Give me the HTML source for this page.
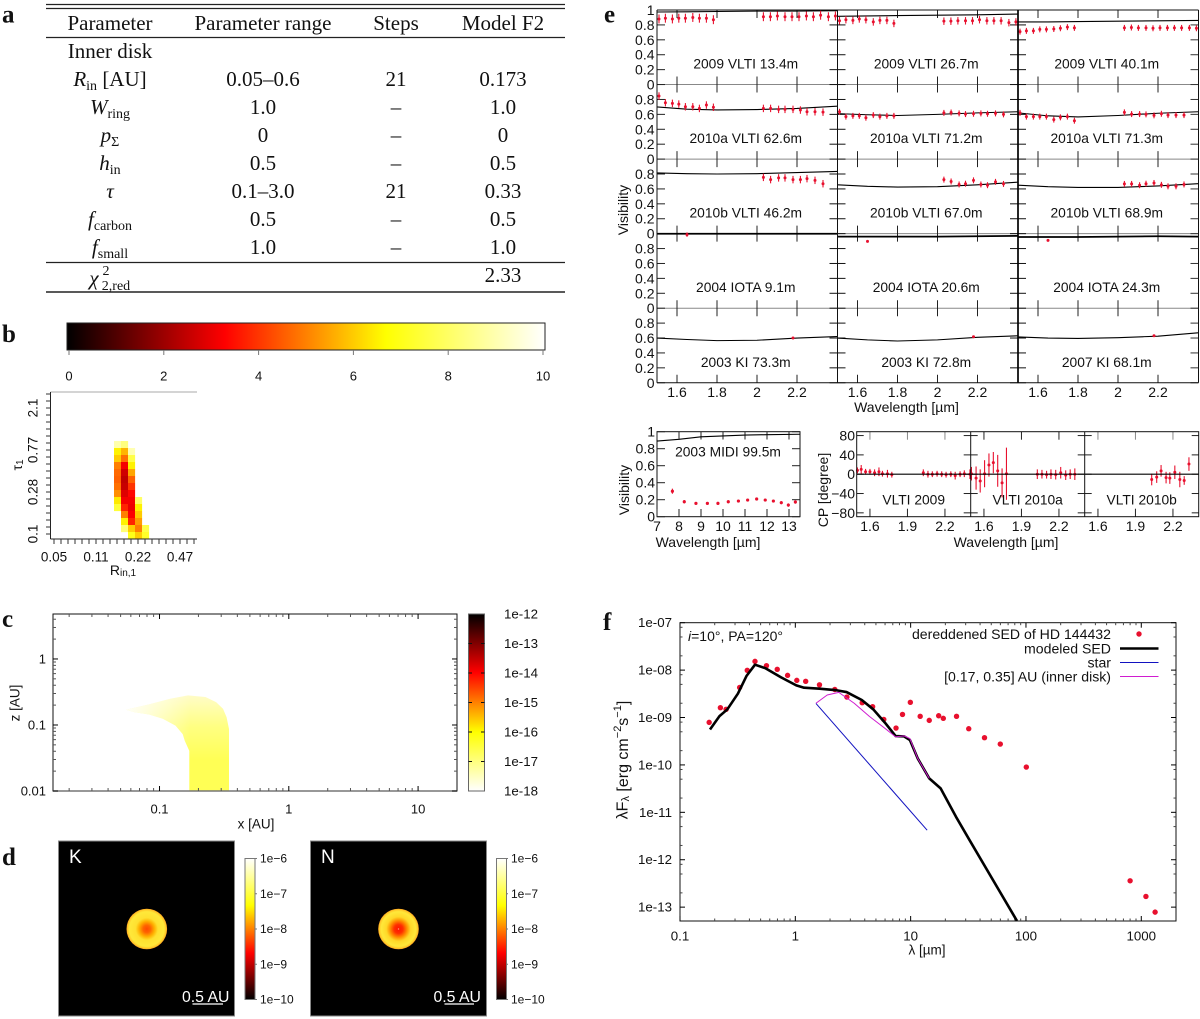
<!DOCTYPE html>
<html lang="en">
<head>
<meta charset="utf-8">
<title>HD 144432 inner disk model figure</title>
<style>
html,body{margin:0;padding:0;background:#fff;width:1200px;height:1019px;overflow:hidden}
svg{display:block;filter:blur(0.3px)}
text{font-family:"Liberation Sans",sans-serif;fill:#111}
.serif{font-family:"Liberation Serif",serif;font-size:21px;text-anchor:middle}
.plabel{font-family:"Liberation Serif",serif;font-size:25px;font-weight:bold}
.ttl{dominant-baseline:central;text-anchor:middle;font-size:14px}
</style>
</head>
<body>
<svg id="figure" xmlns="http://www.w3.org/2000/svg" width="1200" height="1019" viewBox="0 0 1200 1019">
<defs>
<linearGradient id="hotH" x1="0" x2="1" y1="0" y2="0"><stop offset="0" stop-color="#000"/><stop offset=".33" stop-color="#f00"/><stop offset=".667" stop-color="#ff0"/><stop offset="1" stop-color="#fff"/></linearGradient>
<linearGradient id="hotV" x1="0" x2="0" y1="0" y2="1"><stop offset="0" stop-color="#000"/><stop offset=".33" stop-color="#f00"/><stop offset=".667" stop-color="#ff0"/><stop offset="1" stop-color="#fff"/></linearGradient>
<linearGradient id="hotVr" x1="0" x2="0" y1="1" y2="0"><stop offset="0" stop-color="#000"/><stop offset=".33" stop-color="#f00"/><stop offset=".667" stop-color="#ff0"/><stop offset="1" stop-color="#fff"/></linearGradient>
<linearGradient id="diskY" gradientUnits="userSpaceOnUse" x1="0" x2="0" y1="695" y2="760"><stop offset="0" stop-color="#fffcc8"/><stop offset=".5" stop-color="#ffff80"/><stop offset="1" stop-color="#ffff55"/></linearGradient>
<linearGradient id="diskFade" gradientUnits="userSpaceOnUse" x1="120" x2="190" y1="0" y2="0"><stop offset="0" stop-color="#fff" stop-opacity="1"/><stop offset="1" stop-color="#fff" stop-opacity="0"/></linearGradient>
<radialGradient id="imgK"><stop offset="0" stop-color="#ff4a00"/><stop offset=".18" stop-color="#ff6400"/><stop offset=".38" stop-color="#ffb000"/><stop offset=".55" stop-color="#ffe030"/><stop offset=".85" stop-color="#ffe83a"/><stop offset=".95" stop-color="#ffc828"/><stop offset="1" stop-color="#ff9a20"/></radialGradient>
<radialGradient id="imgN"><stop offset="0" stop-color="#ffe0a0"/><stop offset=".05" stop-color="#ff1800"/><stop offset=".22" stop-color="#ff3000"/><stop offset=".42" stop-color="#ff9000"/><stop offset=".6" stop-color="#ffd828"/><stop offset=".85" stop-color="#ffe83a"/><stop offset=".95" stop-color="#ffc828"/><stop offset="1" stop-color="#ff9a20"/></radialGradient>
</defs>
<rect width="1200" height="1019" fill="#fff"/>

<!-- Panel letters -->
<g>
<text class="plabel" x="2" y="22.5">a</text>
<text class="plabel" x="2" y="342">b</text>
<text class="plabel" x="2" y="627">c</text>
<text class="plabel" x="2" y="865">d</text>
<text class="plabel" x="604" y="22.5">e</text>
<text class="plabel" x="603" y="630">f</text>
</g>

<!-- Panel a: table -->
<g>
<line x1="46" x2="565" y1="4.5" y2="4.5" stroke="#222" stroke-width="1.2"/>
<line x1="46" x2="565" y1="8.5" y2="8.5" stroke="#222" stroke-width="1.2"/>
<line x1="46" x2="565" y1="37.5" y2="37.5" stroke="#222" stroke-width="1.2"/>
<line x1="46" x2="565" y1="262.5" y2="262.5" stroke="#222" stroke-width="1.2"/>
<line x1="46" x2="565" y1="292" y2="292" stroke="#222" stroke-width="1.4"/>
<text class="serif" x="110" y="30">Parameter</text>
<text class="serif" x="263" y="30">Parameter range</text>
<text class="serif" x="396" y="30">Steps</text>
<text class="serif" x="503" y="30">Model F2</text>
<text class="serif" x="110" y="58">Inner disk</text>

<text class="serif" x="110" y="86"><tspan font-style="italic">R</tspan><tspan dy="4" font-size="14">in</tspan><tspan dy="-4"> [AU]</tspan></text>
<text class="serif" x="263" y="86">0.05–0.6</text>
<text class="serif" x="396" y="86">21</text>
<text class="serif" x="503" y="86">0.173</text>

<text class="serif" x="110" y="114"><tspan font-style="italic">W</tspan><tspan dy="4" font-size="14">ring</tspan></text>
<text class="serif" x="263" y="114">1.0</text>
<text class="serif" x="396" y="114">–</text>
<text class="serif" x="503" y="114">1.0</text>

<text class="serif" x="110" y="142"><tspan font-style="italic">p</tspan><tspan dy="4" font-size="14">Σ</tspan></text>
<text class="serif" x="263" y="142">0</text>
<text class="serif" x="396" y="142">–</text>
<text class="serif" x="503" y="142">0</text>

<text class="serif" x="110" y="170"><tspan font-style="italic">h</tspan><tspan dy="4" font-size="14">in</tspan></text>
<text class="serif" x="263" y="170">0.5</text>
<text class="serif" x="396" y="170">–</text>
<text class="serif" x="503" y="170">0.5</text>

<text class="serif" x="110" y="198" font-style="italic">τ</text>
<text class="serif" x="263" y="198">0.1–3.0</text>
<text class="serif" x="396" y="198">21</text>
<text class="serif" x="503" y="198">0.33</text>

<text class="serif" x="110" y="226"><tspan font-style="italic">f</tspan><tspan dy="4" font-size="14">carbon</tspan></text>
<text class="serif" x="263" y="226">0.5</text>
<text class="serif" x="396" y="226">–</text>
<text class="serif" x="503" y="226">0.5</text>

<text class="serif" x="110" y="254"><tspan font-style="italic">f</tspan><tspan dy="4" font-size="14">small</tspan></text>
<text class="serif" x="263" y="254">1.0</text>
<text class="serif" x="396" y="254">–</text>
<text class="serif" x="503" y="254">1.0</text>

<text class="serif" x="94" y="285" font-style="italic">χ</text>
<text class="serif" x="106" y="275" style="font-size:14px">2</text>
<text class="serif" x="116" y="290" style="font-size:14px">2,red</text>
<text class="serif" x="503" y="282">2.33</text>
</g>

<!-- Panel b -->
<g id="panelB">
<rect x="67" y="323" width="478" height="27" fill="url(#hotH)" stroke="#222" stroke-width="1"/>
<text class="ttl" x="123" y="570" style="font-size:14px">R<tspan dy="3" font-size="10">in,1</tspan></text>
<text class="ttl" transform="translate(17,465) rotate(-90)" style="font-size:14px">τ<tspan dy="3" font-size="10">1</tspan></text>
</g>

<!-- Panel c -->
<g id="panelC">
<rect x="468.5" y="614" width="16" height="177" fill="url(#hotV)" stroke="#666" stroke-width="1"/>
<text class="ttl" x="256" y="824" style="font-size:13.5px">x [AU]</text>
<text class="ttl" transform="translate(15,703) rotate(-90)" style="font-size:13.5px">z [AU]</text>
</g>

<!-- Panel d -->
<g id="panelD">
<rect x="58.5" y="841" width="176" height="175" fill="#000" stroke="#888"/>
<circle cx="146.8" cy="929" r="20.3" fill="url(#imgK)"/>
<text x="69" y="863" font-size="19" style="fill:#fff">K</text>
<text x="182" y="1002" font-size="15.8" style="fill:#fff">0.5 AU</text>
<line x1="192.5" x2="223" y1="1004" y2="1004" stroke="#fff" stroke-width="1.2"/>
<rect x="245" y="858.5" width="10" height="141" fill="url(#hotVr)" stroke="#777"/>

<rect x="310.5" y="841" width="176" height="175" fill="#000" stroke="#888"/>
<circle cx="398.5" cy="929" r="20.3" fill="url(#imgN)"/>
<text x="321" y="863" font-size="19" style="fill:#fff">N</text>
<text x="433.5" y="1002" font-size="15.8" style="fill:#fff">0.5 AU</text>
<line x1="444.5" x2="474" y1="1004" y2="1004" stroke="#fff" stroke-width="1.2"/>
<rect x="496.5" y="858.5" width="10" height="141" fill="url(#hotVr)" stroke="#777"/>
</g>

<!-- Panel e -->
<g id="panelE">
<text class="ttl" transform="translate(623,210) rotate(-90)">Visibility</text>
<text class="ttl" x="906.5" y="407">Wavelength [µm]</text>
</g>
<g id="panelMidi">
<text class="ttl" transform="translate(624,490) rotate(-90)">Visibility</text>
<text class="ttl" x="708" y="542">Wavelength [µm]</text>
</g>
<g id="panelCP">
<text class="ttl" transform="translate(823,490) rotate(-90)">CP [degree]</text>
<text class="ttl" x="1006" y="542">Wavelength [µm]</text>
</g>

<!-- Panel f -->
<g id="panelF">
<text x="688" y="641" font-size="14"><tspan font-style="italic">i</tspan>=10°, PA=120°</text>
<text class="ttl" x="927" y="950" style="font-size:13.5px">λ [µm]</text>
<text class="ttl" transform="translate(623,760) rotate(-90)" style="font-size:16px">λF<tspan dy="3" font-size="11">λ</tspan><tspan dy="-3"> [erg cm</tspan><tspan dy="-5" font-size="11">−2</tspan><tspan dy="5">s</tspan><tspan dy="-5" font-size="11">−1</tspan><tspan dy="5">]</tspan></text>
<g font-size="14.1" text-anchor="end">
<text x="1111" y="639">dereddened SED of HD 144432</text>
<text x="1111" y="653.5">modeled SED</text>
<text x="1111" y="667.5">star</text>
<text x="1111" y="681.5">[0.17, 0.35] AU (inner disk)</text>
<circle cx="1139" cy="634" r="2.7" fill="#e8102e"/>
<line x1="1120" x2="1158.5" y1="648.5" y2="648.5" stroke="#000" stroke-width="2.6"/>
<line x1="1120" x2="1158.5" y1="662.5" y2="662.5" stroke="#1212c0" stroke-width="1"/>
<line x1="1120" x2="1158.5" y1="676.5" y2="676.5" stroke="#d01cd0" stroke-width="1"/>
</g>
</g>
</svg>

<script>
// ---- Panel b data
const chi2BarTicks = [0, 2, 4, 6, 8, 10];
const rinTickLabels = ['0.05', '0.11', '0.22', '0.47'];
const tauTickLabels = ['0.1', '0.28', '0.77', '2.1'];
const chi2RowIndex = [7, 8, 9, 10, 11, 12, 13, 14, 15, 16, 17, 18, 19, 20];
const chi2ColIndex = [9, 10, 11, 12, 13];
const chi2Values = [
  [8.9, 8.3, 10, 10, 10],
  [6.5, 5.7, 9.0, 10, 10],
  [6.0, 4.8, 7.6, 10, 10],
  [5.0, 3.2, 6.5, 10, 10],
  [4.7, 2.7, 5.5, 10, 10],
  [4.6, 2.5, 4.6, 10, 10],
  [4.8, 2.6, 4.0, 10, 10],
  [5.2, 2.9, 3.4, 10, 10],
  [6.4, 3.2, 3.2, 8.0, 10],
  [7.4, 3.8, 3.1, 6.5, 10],
  [10, 5.0, 3.3, 6.0, 10],
  [10, 6.5, 3.8, 5.4, 10],
  [10, 8.2, 6.0, 5.0, 7.6],
  [10, 10, 7.0, 6.0, 7.2]
];

// ---- Panel c data
const diskX = [0.055, 0.083, 0.121, 0.166, 0.227, 0.274, 0.31, 0.33, 0.345, 0.345, 0.17, 0.17, 0.157, 0.151, 0.133, 0.106, 0.083, 0.0644];
const diskZ = [0.17, 0.205, 0.25, 0.281, 0.265, 0.222, 0.176, 0.131, 0.087, 0.01, 0.01, 0.0405, 0.0575, 0.0728, 0.098, 0.124, 0.144, 0.156];
const densityXTicks = [0.1, 1, 10];
const densityZTicks = [0.01, 0.1, 1];
const densityBarLabels = ['1e-12', '1e-13', '1e-14', '1e-15', '1e-16', '1e-17', '1e-18'];

// ---- Panel d data
const imageBarLabels = ['1e−6', '1e−7', '1e−8', '1e−9', '1e−10'];

// ---- Panel e data
const hLambda = [1.51, 1.542, 1.577, 1.609, 1.642, 1.679, 1.712, 1.747, 1.782];
const kLambda11 = [2.032, 2.067, 2.102, 2.14, 2.175, 2.21, 2.247, 2.282, 2.318, 2.357, 2.392];
const kLambda9 = [2.032, 2.068, 2.108, 2.14, 2.18, 2.217, 2.25, 2.29, 2.33];
const modelLambda = [1.5, 1.65, 1.8, 2.0, 2.2, 2.4];
const wavelengthTicks = [1.6, 1.8, 2, 2.2];
const visTicks = [0, 0.2, 0.4, 0.6, 0.8, 1];

const vis2009a = [0.88, 0.89, 0.88, 0.89, 0.89, 0.9, 0.89, 0.89, 0.87, 0.91, 0.91, 0.92, 0.91, 0.91, 0.91, 0.92, 0.91, 0.93, 0.91, 0.92];
const vis2009b = [0.856, 0.87, 0.86, 0.88, 0.87, 0.84, 0.86, 0.86, 0.82, 0.85, 0.85, 0.855, 0.855, 0.855, 0.87, 0.855, 0.855, 0.855, 0.83, 0.84];
const vis2009c = [0.71, 0.72, 0.72, 0.74, 0.74, 0.745, 0.755, 0.77, 0.76, 0.76, 0.765, 0.76, 0.76, 0.755, 0.76, 0.76, 0.76, 0.76, 0.76, 0.755];
const vis2010a1 = [0.846, 0.756, 0.748, 0.738, 0.702, 0.702, 0.68, 0.725, 0.695, 0.68, 0.68, 0.667, 0.667, 0.667, 0.658, 0.635, 0.635, 0.63];
const vis2010a2 = [0.635, 0.57, 0.58, 0.58, 0.555, 0.59, 0.57, 0.58, 0.58, 0.62, 0.625, 0.613, 0.604, 0.608, 0.613, 0.608, 0.613, 0.6];
const vis2010a3 = [0.62, 0.57, 0.57, 0.57, 0.57, 0.53, 0.56, 0.57, 0.515, 0.627, 0.604, 0.604, 0.6, 0.587, 0.608, 0.59, 0.59, 0.59];
const vis2010b1 = [0.755, 0.725, 0.748, 0.748, 0.725, 0.725, 0.738, 0.715, 0.67];
const vis2010b2 = [0.725, 0.7, 0.66, 0.67, 0.715, 0.66, 0.65, 0.695, 0.667];
const vis2010b3 = [0.667, 0.667, 0.65, 0.67, 0.68, 0.655, 0.635, 0.635, 0.66];
const visIota1 = [0.987];
const visIota2 = [0.897];
const visIota3 = [0.91];
const visKi1 = [0.6];
const visKi2 = [0.617];
const visKi3 = [0.63];

const model2009a = [0.973, 0.975, 0.98, 0.985, 0.985, 0.99];
const model2009b = [0.915, 0.92, 0.925, 0.93, 0.935, 0.945];
const model2009c = [0.84, 0.84, 0.845, 0.85, 0.855, 0.86];
const model2010a1 = [0.7, 0.67, 0.66, 0.665, 0.68, 0.71];
const model2010a2 = [0.61, 0.595, 0.585, 0.6, 0.62, 0.635];
const model2010a3 = [0.62, 0.58, 0.565, 0.585, 0.615, 0.635];
const model2010b1 = [0.815, 0.805, 0.8, 0.805, 0.82, 0.835];
const model2010b2 = [0.655, 0.635, 0.625, 0.63, 0.655, 0.69];
const model2010b3 = [0.65, 0.63, 0.62, 0.62, 0.64, 0.67];
const modelIota1 = [0.999, 0.999, 0.999, 0.999, 0.999, 0.999];
const modelIota2 = [0.96, 0.96, 0.96, 0.96, 0.965, 0.97];
const modelIota3 = [0.955, 0.955, 0.955, 0.96, 0.965, 0.96];
const modelKi1 = [0.6, 0.58, 0.565, 0.57, 0.6, 0.62];
const modelKi2 = [0.6, 0.575, 0.56, 0.575, 0.61, 0.63];
const modelKi3 = [0.615, 0.6, 0.595, 0.605, 0.625, 0.67];

const visPanels = [
  { title: '2009 VLTI 13.4m', col: 0, row: 0, lam: [...hLambda, ...kLambda11], vis: vis2009a, err: 0.06, model: model2009a },
  { title: '2009 VLTI 26.7m', col: 1, row: 0, lam: [...hLambda, ...kLambda11], vis: vis2009b, err: 0.05, model: model2009b },
  { title: '2009 VLTI 40.1m', col: 2, row: 0, lam: [...hLambda, ...kLambda11], vis: vis2009c, err: 0.04, model: model2009c },
  { title: '2010a VLTI 62.6m', col: 0, row: 1, lam: [...hLambda, ...kLambda9], vis: vis2010a1, err: 0.05, model: model2010a1 },
  { title: '2010a VLTI 71.2m', col: 1, row: 1, lam: [...hLambda, ...kLambda9], vis: vis2010a2, err: 0.04, model: model2010a2 },
  { title: '2010a VLTI 71.3m', col: 2, row: 1, lam: [...hLambda, ...kLambda9], vis: vis2010a3, err: 0.04, model: model2010a3 },
  { title: '2010b VLTI 46.2m', col: 0, row: 2, lam: kLambda9, vis: vis2010b1, err: 0.05, model: model2010b1 },
  { title: '2010b VLTI 67.0m', col: 1, row: 2, lam: kLambda9, vis: vis2010b2, err: 0.04, model: model2010b2 },
  { title: '2010b VLTI 68.9m', col: 2, row: 2, lam: kLambda9, vis: vis2010b3, err: 0.04, model: model2010b3 },
  { title: '2004 IOTA 9.1m', col: 0, row: 3, lam: [1.65], vis: visIota1, err: 0.03, model: modelIota1 },
  { title: '2004 IOTA 20.6m', col: 1, row: 3, lam: [1.65], vis: visIota2, err: 0.015, model: modelIota2 },
  { title: '2004 IOTA 24.3m', col: 2, row: 3, lam: [1.65], vis: visIota3, err: 0.015, model: modelIota3 },
  { title: '2003 KI 73.3m', col: 0, row: 4, lam: [2.18], vis: visKi1, err: 0.015, model: modelKi1 },
  { title: '2003 KI 72.8m', col: 1, row: 4, lam: [2.18], vis: visKi2, err: 0.015, model: modelKi2 },
  { title: '2007 KI 68.1m', col: 2, row: 4, lam: [2.18], vis: visKi3, err: 0.01, model: modelKi3 }
];

// ---- MIDI data
const midiLambda = [7.7, 8.24, 8.77, 9.29, 9.77, 10.24, 10.7, 11.12, 11.53, 11.92, 12.29, 12.65, 12.97, 13.29];
const midiVis = [0.3, 0.176, 0.157, 0.157, 0.157, 0.176, 0.184, 0.196, 0.208, 0.196, 0.184, 0.165, 0.137, 0.173];
const midiErr = [0.03, 0.02, 0.015, 0.015, 0.018, 0.018, 0.015, 0.012, 0.012, 0.015, 0.015, 0.018, 0.02, 0.02];
const midiModelLambda = [7, 8, 9, 10, 11, 12, 13.5];
const midiModelVis = [0.89, 0.91, 0.94, 0.95, 0.96, 0.965, 0.97];
const midiXTicks = [7, 8, 9, 10, 11, 12, 13];

// ---- Closure phase data
const cpLambda2009 = [1.5, 1.53, 1.565, 1.6, 1.637, 1.672, 1.7, 1.74, 1.775, 2.027, 2.064, 2.099, 2.137, 2.174, 2.209, 2.247, 2.282, 2.321, 2.355, 2.4];
const cpValue2009 = [8, 10, 5, 5, 3, 5, 1, 1, -1, 3, 0, 0, 1, 0, -1, 0, -3, 0, 1, 0];
const cpError2009 = [6, 9, 6, 6, 7, 9, 6, 8, 6, 7, 7, 6, 6, 6, 6, 6, 8, 6, 7, 10];
const cpLambda2010a = [1.5, 1.537, 1.57, 1.605, 1.64, 1.675, 1.71, 1.745, 1.78, 2.027, 2.064, 2.101, 2.136, 2.174, 2.214, 2.254, 2.29, 2.327];
const cpValue2010a = [1, -8, -14, 1, 19, 24, 7, -18, 1, 0, 0, -1, 0, -1, 3, -2, 0, 0];
const cpError2010a = [14, 24, 24, 28, 24, 22, 33, 30, 54, 10, 9, 8, 10, 10, 12, 10, 10, 12];
const cpLambda2010b = [2.03, 2.07, 2.105, 2.145, 2.175, 2.215, 2.255, 2.29, 2.328];
const cpValue2010b = [-11, -6, 7, -7, -8, 4, -11, -13, 21];
const cpError2010b = [12, 12, 12, 12, 12, 14, 16, 9, 14];
const cpXTicks = [1.6, 1.9, 2.2];
const cpYTicks = [80, 40, 0, -40, -80];
const cpTickText = ['80', '40', '0', '−40', '−80'];
const cpTitles = ['VLTI 2009', 'VLTI 2010a', 'VLTI 2010b'];

// ---- Panel f data
const sedLambda = [0.179, 0.224, 0.251, 0.329, 0.383, 0.447, 0.562, 0.697, 0.857, 1.03, 1.23, 1.62, 2.2, 2.8, 3.8, 4.68, 5.85, 7.47, 8.5, 9.94, 12.1, 14.5, 17.5, 19.2, 25, 31.9, 43.7, 59.9, 100.7, 800, 1097, 1318];
const sedFlux = [7.9e-10, 1.61e-9, 1.49e-9, 4.3e-9, 9.9e-9, 1.53e-8, 1.24e-8, 1.04e-8, 7.75e-9, 6.07e-9, 5.8e-9, 4.9e-9, 3.9e-9, 2.7e-9, 2.05e-9, 1.69e-9, 9.1e-10, 6e-10, 1.16e-9, 2.09e-9, 1.06e-9, 8.7e-10, 1.09e-9, 9.6e-10, 1.06e-9, 5.8e-10, 3.75e-10, 2.75e-10, 9e-11, 3.6e-13, 1.68e-13, 7.85e-14];
const modelSedLambda = [0.182, 0.22, 0.257, 0.318, 0.377, 0.447, 0.553, 0.753, 1.02, 1.19, 1.62, 2.2, 2.78, 3.77, 4.75, 5.99, 7.41, 8.77, 9.85, 11.5, 14.5, 18.2, 24.7, 32.4, 83.5];
const modelSedFlux = [5.6e-10, 1.07e-9, 1.48e-9, 3.2e-9, 7.5e-9, 1.3e-8, 1.09e-8, 7.03e-9, 4.77e-9, 4.25e-9, 4.05e-9, 3.8e-9, 3.44e-9, 2.34e-9, 1.48e-9, 7.76e-10, 4.07e-10, 4e-10, 3.35e-10, 1.38e-10, 5.2e-11, 3.2e-11, 8.1e-12, 2.6e-12, 5.15e-14];
const starLambda = [1.51, 13.9];
const starFlux = [1.98e-9, 4.2e-12];
const innerDiskLambda = [1.51, 1.89, 2.38, 3.24, 4.4, 5.99, 7.41, 8.77, 9.85, 11.5, 14.5];
const innerDiskFlux = [2e-9, 2.98e-9, 3.39e-9, 2e-9, 1.05e-9, 5.9e-10, 3.9e-10, 4.1e-10, 3.6e-10, 1.38e-10, 5.2e-11];
const sedXTicks = [0.1, 1, 10, 100, 1000];
const sedXLabels = ['0.1', '1', '10', '100', '1000'];
const sedYTicks = [1e-7, 1e-8, 1e-9, 1e-10, 1e-11, 1e-12, 1e-13];
const sedYLabels = ['1e-07', '1e-08', '1e-09', '1e-10', '1e-11', '1e-12', '1e-13'];

// ---- Helpers
const NS = 'http://www.w3.org/2000/svg';
function mk(tag, attrs, parent) {
  const e = document.createElementNS(NS, tag);
  for (const k in attrs) e.setAttribute(k, attrs[k]);
  parent.appendChild(e);
  return e;
}
function lin(d0, d1, r0, r1) { return v => r0 + (v - d0) / (d1 - d0) * (r1 - r0); }
function logScale(d0, d1, r0, r1) {
  const f = lin(Math.log10(d0), Math.log10(d1), r0, r1);
  return v => f(Math.log10(v));
}
function tick(p, x1, y1, x2, y2, color, w) {
  const t = mk('line', { x1, y1, x2, y2, stroke: color || '#000', 'stroke-width': w || 1 }, p);
  
  
  return t;
}
function rule(p, x1, y1, x2, y2, color, w) {
  const t = mk('line', { x1, y1, x2, y2, stroke: color || '#000', 'stroke-width': w || 1 }, p);
  
  
  return t;
}
function tickLabel(p, x, y, str, size, anchor, rot) {
  const attrs = { 'font-size': size, 'text-anchor': anchor || 'middle', 'dominant-baseline': 'central' };
  if (rot) { attrs.transform = 'translate(' + x + ',' + y + ') rotate(-90)'; } else { attrs.x = x; attrs.y = y; }
  const t = mk('text', attrs, p);
  t.textContent = str;
  
  
  return t;
}
function curve(p, xs, ys, sx, sy, color, w) {
  const pts = xs.map((v, i) => sx(v).toFixed(2) + ',' + sy(ys[i]).toFixed(2)).join(' ');
  return mk('polyline', { points: pts, fill: 'none', stroke: color, 'stroke-width': w, 'stroke-linejoin': 'round' }, p);
}
function hotColor(v) {
  const t = Math.max(0, Math.min(1, v / 10));
  const c = x => Math.round(255 * Math.max(0, Math.min(1, x)));
  return 'rgb(' + c(t / 0.333) + ',' + c((t - 0.333) / 0.334) + ',' + c((t - 0.667) / 0.333) + ')';
}
const RED = '#e8102e';
function marker(p, x, y0, y1, yc, r) {
  const bar = mk('line', { x1: x, x2: x, y1: y0, y2: y1, stroke: RED, 'stroke-width': 1.1 }, p);
  
  
  const dot = mk('circle', { cx: x, cy: yc, r: r, fill: RED }, p);
  
  
}

// ---- Draw panel b
(function () {
  const p = document.getElementById('panelB');
  const barX = lin(0, 10, 69, 543);
  chi2BarTicks.forEach(v => {
    tick(p, barX(v), 350, barX(v), 355, '#777');
    tickLabel(p, barX(v), 376, String(v), 13);
  });
  const cellX = i => 51 + i * 7;
  const cellY = j => 392 + j * 7;
  chi2RowIndex.forEach((row, j) => {
    chi2ColIndex.forEach((col, i) => {
      const v = chi2Values[j][i];
      if (v >= 10) return;
      const c = mk('rect', { x: cellX(col), y: cellY(row), width: 7.1, height: 7.1, fill: hotColor(v) }, p);
      
      
    });
  });
  rule(p, 50.5, 392, 197, 392, '#aaa', 1);
  rule(p, 50.5, 392, 50.5, 539, '#222', 1);
  rule(p, 50.5, 539, 197, 539, '#222', 1);
  for (let i = 0; i < 21; i++) {
    tick(p, cellX(i) + 3, 539, cellX(i) + 3, 544, '#333');
    tick(p, 50.5, cellY(i) + 2, 46, cellY(i) + 2, '#333');
  }
  rinTickLabels.forEach((s, i) => tickLabel(p, cellX(i * 6) + 3, 557, s, 13.5));
  tauTickLabels.forEach((s, i) => tickLabel(p, 33, cellY(20 - i * 6) + 2, s, 13.5, 'middle', true));
})();

// ---- Draw panel c
(function () {
  const p = document.getElementById('panelC');
  const sx = logScale(0.015, 20, 53, 457);
  const sz = logScale(0.01, 4.8, 791, 614);
  const pts = diskX.map((v, i) => sx(v).toFixed(1) + ',' + sz(diskZ[i]).toFixed(1)).join(' ');
  const d1 = mk('polygon', { points: pts, fill: 'url(#diskY)' }, p);
  
  
  const d2 = mk('polygon', { points: pts, fill: 'url(#diskFade)' }, p);
  
  
  const f = mk('rect', { x: 53, y: 614, width: 404, height: 177, fill: 'none', stroke: '#111', 'stroke-width': 1 }, p);
  
  
  rule(p, 53, 791, 457, 791, '#777', 1.4);
  densityXTicks.forEach(v => {
    tick(p, sx(v), 791, sx(v), 786);
    tick(p, sx(v), 614, sx(v), 619);
    tickLabel(p, sx(v), 809, String(v), 13);
  });
  densityZTicks.forEach(v => {
    tick(p, 53, sz(v), 58, sz(v));
    tick(p, 457, sz(v), 452, sz(v));
    tickLabel(p, 46, sz(v), String(v), 13, 'end');
  });
  [0.01, 0.1, 1, 10].forEach(dec => {
    for (let m = 2; m < 10; m++) {
      const v = dec * m;
      if (v > 0.015 && v < 20) {
        tick(p, sx(v), 791, sx(v), 788, '#555');
        tick(p, sx(v), 614, sx(v), 617, '#555');
      }
      if (v < 4.8) {
        tick(p, 53, sz(v), 56, sz(v), '#555');
        tick(p, 457, sz(v), 454, sz(v), '#555');
      }
    }
  });
  densityBarLabels.forEach((s, i) => {
    const y = 614 + i * 177 / 6;
    tickLabel(p, 504, y, s, 13.3, 'start');
    if (i > 0 && i < 6) {
      tick(p, 468.5, y, 472, y, '#111');
      tick(p, 484.5, y, 481, y, '#111');
    }
  });
})();

// ---- Draw panel d tick labels
(function () {
  const p = document.getElementById('panelD');
  [[260], [511]].forEach(([x]) => {
    imageBarLabels.forEach((s, i) => {
      const y = 858.5 + i * 141 / 4;
      tickLabel(p, x, y, s, 12, 'start');
      tick(p, x - 5, y, x - 3, y, '#777');
    });
  });
})();

// ---- Draw panel e grid
(function () {
  const p = document.getElementById('panelE');
  const left = 657, colW = 180.5, top = 10, rowH = 74.55, pxPerLam = 200;
  const colX = c => left + c * colW;
  const rowBottom = r => top + (r + 1) * rowH;
  const lamX = (c, l) => colX(c) + (l - 1.5) * pxPerLam;
  const visY = (r, v) => rowBottom(r) - v * rowH;

  for (let r = 0; r < 4; r++) rule(p, left, rowBottom(r), colX(3), rowBottom(r), '#888', 1);

  for (let c = 0; c < 3; c++) {
    wavelengthTicks.forEach(l => {
      const x = lamX(c, l);
      tick(p, x, top, x, top + 8, '#222');
      for (let r = 0; r < 4; r++) tick(p, x, rowBottom(r) - 8, x, rowBottom(r) + 8, '#222');
      tick(p, x, rowBottom(4) - 8, x, rowBottom(4), '#222');
      tickLabel(p, x, 392, String(l), 14);
    });
  }
  for (let r = 0; r < 5; r++) {
    visTicks.forEach(v => {
      if (r > 0 && v === 1) return;
      const y = visY(r, v);
      tick(p, left, y, left + 8, y, '#222');
      tick(p, colX(1) - 8, y, colX(1) + 8, y, '#111');
      tick(p, colX(2) - 8, y, colX(2) + 8, y, '#111');
      tick(p, colX(3) - 8, y, colX(3), y, '#333');
      tickLabel(p, 654.5, y, String(v), 14, 'end');
    });
  }
  visPanels.forEach(pn => {
    const sx = l => lamX(pn.col, l);
    const sy = v => visY(pn.row, v);
    const m = curve(p, modelLambda, pn.model, sx, sy, '#000', pn.row === 3 ? 1.7 : 1.1);
    
    
    pn.lam.forEach((l, i) => {
      marker(p, sx(l), sy(pn.vis[i] + pn.err), sy(pn.vis[i] - pn.err), sy(pn.vis[i]), 1.5);
    });
    const cx = colX(pn.col) + colW / 2 - 1.5;
    const t = mk('text', { x: cx, y: rowBottom(pn.row) - 20.5, 'font-size': 13.8, 'text-anchor': 'middle', 'dominant-baseline': 'central' }, p);
    t.textContent = pn.title;
    
    
  });
  rule(p, left, top, colX(3), top, '#111', 1);
  rule(p, left, rowBottom(4), colX(3), rowBottom(4), '#111', 1);
  rule(p, left, top, left, rowBottom(4), '#111', 1);
  rule(p, colX(1), top, colX(1), rowBottom(4), '#111', 1);
  rule(p, colX(2), top, colX(2), rowBottom(4), '#000', 1.7);
  rule(p, colX(3), top, colX(3), rowBottom(4), '#111', 1);
})();

// ---- Draw MIDI panel
(function () {
  const p = document.getElementById('panelMidi');
  const sx = lin(7, 13.5, 657, 800);
  const sy = lin(0, 1, 516.7, 431.7);
  const f = mk('rect', { x: 657, y: 431.7, width: 143, height: 85, fill: 'none', stroke: '#111', 'stroke-width': 1 }, p);
  
  
  midiXTicks.forEach(v => {
    tick(p, sx(v), 516.7, sx(v), 509, '#222');
    tick(p, sx(v), 431.7, sx(v), 439.5, '#222');
    tickLabel(p, sx(v), 526, String(v), 14);
  });
  visTicks.forEach(v => {
    tick(p, 657, sy(v), 665, sy(v), '#222');
    tick(p, 800, sy(v), 792, sy(v), '#222');
    tickLabel(p, 655, sy(v), String(v), 14, 'end');
  });
  const m = curve(p, midiModelLambda, midiModelVis, sx, sy, '#000', 1.1);
  
  
  midiLambda.forEach((l, i) => {
    marker(p, sx(l), sy(midiVis[i] + midiErr[i]), sy(midiVis[i] - midiErr[i]), sy(midiVis[i]), 1.6);
  });
  const t = mk('text', { x: 728, y: 452, 'font-size': 13.8, 'text-anchor': 'middle', 'dominant-baseline': 'central' }, p);
  t.textContent = '2003 MIDI 99.5m';
  
  
})();

// ---- Draw closure phase panel
(function () {
  const p = document.getElementById('panelCP');
  const left = 856.7, colW = 114, top = 431.7, bottom = 516.7;
  const sy = lin(-88, 88, bottom, top);
  const lamX = (c, l) => left + c * colW + (l - 1.494) * 125;
  const sets = [
    [cpLambda2009, cpValue2009, cpError2009],
    [cpLambda2010a, cpValue2010a, cpError2010a],
    [cpLambda2010b, cpValue2010b, cpError2010b]
  ];
  cpYTicks.forEach((v, i) => {
    tick(p, left, sy(v), left + 7, sy(v), '#222');
    tick(p, left + colW - 7, sy(v), left + colW + 7, sy(v), '#222');
    tick(p, left + 2 * colW - 7, sy(v), left + 2 * colW + 7, sy(v), '#222');
    tick(p, left + 3 * colW - 7, sy(v), left + 3 * colW, sy(v), '#222');
    tickLabel(p, 855, sy(v), cpTickText[i], 14, 'end');
  });
  sets.forEach((s, c) => {
    cpXTicks.forEach(l => {
      tick(p, lamX(c, l), top, lamX(c, l), top + 8, c === 1 ? '#222' : '#888');
      tick(p, lamX(c, l), bottom, lamX(c, l), bottom - 8, '#222');
      tickLabel(p, lamX(c, l), 526, String(l), 14);
    });
    s[0].forEach((l, i) => {
      marker(p, lamX(c, l), sy(s[1][i] + s[2][i]), sy(s[1][i] - s[2][i]), sy(s[1][i]), 1.5);
    });
    const t = mk('text', { x: left + c * colW + colW / 2, y: 500, 'font-size': 13.8, 'text-anchor': 'middle', 'dominant-baseline': 'central' }, p);
    t.textContent = cpTitles[c];
    
    
  });
  rule(p, left, sy(0), left + 3 * colW, sy(0), '#000', 1.1);
  const f = mk('rect', { x: left, y: top, width: 3 * colW, height: bottom - top, fill: 'none', stroke: '#111', 'stroke-width': 1 }, p);
  
  
  rule(p, left + colW, top, left + colW, bottom, '#111', 1);
  rule(p, left + 2 * colW, top, left + 2 * colW, bottom, '#111', 1);
})();

// ---- Draw panel f
(function () {
  const p = document.getElementById('panelF');
  const sx = logScale(0.1, 2000, 680, 1176);
  const sy = logScale(5.1e-14, 1e-7, 921, 622.7);
  const f = mk('rect', { x: 680, y: 622.7, width: 496, height: 298.3, fill: 'none', stroke: '#111', 'stroke-width': 1 }, p);
  
  
  sedXTicks.forEach((v, i) => {
    tick(p, sx(v), 921, sx(v), 916);
    tick(p, sx(v), 622.7, sx(v), 627.7);
    tickLabel(p, sx(v), 936, sedXLabels[i], 13.3);
    for (let m = 2; m < 10; m++) {
      const w = v * m;
      if (w < 2000) {
        tick(p, sx(w), 921, sx(w), 918.5, '#444');
        tick(p, sx(w), 622.7, sx(w), 625.2, '#444');
      }
    }
  });
  sedYTicks.forEach((v, i) => {
    tick(p, 680, sy(v), 685, sy(v));
    tick(p, 1176, sy(v), 1171, sy(v));
    tickLabel(p, 672, sy(v), sedYLabels[i], 13.3, 'end');
    for (let m = 2; m < 10; m += 3) {
      const w = v * m;
      if (w < 1e-7) {
        tick(p, 680, sy(w), 682.5, sy(w), '#444');
        tick(p, 1176, sy(w), 1173.5, sy(w), '#444');
      }
    }
  });
  const s = curve(p, starLambda, starFlux, sx, sy, '#1212c0', 1);
  
  
  sedLambda.forEach((l, i) => {
    const c = mk('circle', { cx: sx(l), cy: sy(sedFlux[i]), r: 2.7, fill: RED }, p);
    
    
  });
  const m = curve(p, modelSedLambda, modelSedFlux, sx, sy, '#000', 2.6);
  
  
  const d = curve(p, innerDiskLambda, innerDiskFlux, sx, sy, '#d01cd0', 1);
  
  
})();
</script>
</body>
</html>
